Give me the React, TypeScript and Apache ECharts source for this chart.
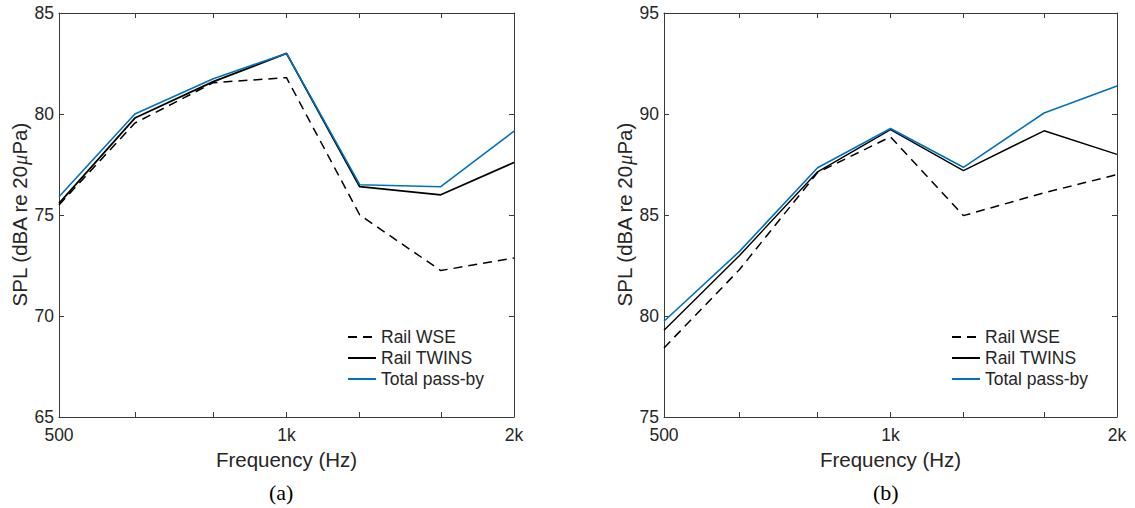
import React, { useEffect, useRef } from "react";
import * as echarts from "echarts";

// Third-octave band centre frequencies (Hz)
const FREQ = [500, 630, 800, 1000, 1250, 1600, 2000];
const X_LABEL_VALUES = [500, 1000, 2000];
const X_LABEL_TEXT: Record<number, string> = { 500: "500", 1000: "1k", 2000: "2k" };

const SERIES_NAMES = ["Rail WSE", "Rail TWINS", "Total pass-by"];

// Panel (a)
const A_WSE = [75.5, 79.55, 81.55, 81.8, 75.0, 72.25, 72.87];
const A_TWINS = [75.58, 79.8, 81.6, 83.0, 76.4, 76.0, 77.6];
const A_TOTAL = [75.9, 80.0, 81.75, 83.0, 76.5, 76.4, 79.15];
const A_Y = { min: 65, max: 85, interval: 5 };

// Panel (b)
const B_WSE = [78.42, 82.3, 87.1, 88.87, 84.97, 86.1, 87.0];
const B_TWINS = [79.29, 83.0, 87.14, 89.23, 87.2, 89.17, 88.0];
const B_TOTAL = [79.74, 83.2, 87.34, 89.28, 87.36, 90.05, 91.38];
const B_Y = { min: 75, max: 95, interval: 5 };

const FONT = "'Liberation Sans', Arial, Helvetica, sans-serif";
const TEXT = "#262626";
const AXIS = "#3a3a3a";
const BLUE = "#0072BD";

function pairs(ys: number[]) {
  return FREQ.map((f, i) => [f, ys[i]]);
}

export default function App() {
  const ref = useRef<HTMLDivElement>(null);

  useEffect(() => {
    if (!ref.current) return;
    const chart = echarts.init(ref.current, null, { renderer: "svg" });

    const grids = [
      { left: 59, top: 13, width: 455, height: 404 },
      { left: 664, top: 13, width: 453, height: 404 },
    ];
    const yRanges = [A_Y, B_Y];

    const xAxes: any[] = [];
    const yAxes: any[] = [];
    grids.forEach((_, g) => {
      const base = {
        type: "log",
        logBase: 2,
        min: 500,
        max: 2000,
        gridIndex: g,
        splitLine: { show: false },
        minorTick: { show: false },
        axisLine: { show: true, lineStyle: { color: AXIS, width: 1 } },
        axisTick: {
          show: true,
          inside: true,
          length: 5,
          customValues: FREQ,
          lineStyle: { color: AXIS, width: 1 },
        },
      };
      xAxes.push({
        ...base,
        position: "bottom",
        name: "Frequency (Hz)",
        nameLocation: "middle",
        nameGap: 32,
        nameTextStyle: { fontFamily: FONT, fontSize: 20.5, color: TEXT },
        axisLabel: {
          show: true,
          customValues: X_LABEL_VALUES,
          margin: 9,
          fontFamily: FONT,
          fontSize: 17.5,
          color: TEXT,
          formatter: (v: number) => {
            const key = X_LABEL_VALUES.find((k) => Math.abs(k - v) < 1);
            return key !== undefined ? X_LABEL_TEXT[key] : "";
          },
        },
      });
      xAxes.push({
        ...base,
        position: "top",
        axisLabel: { show: false },
      });
      const yr = yRanges[g];
      const ybase = {
        type: "value",
        gridIndex: g,
        min: yr.min,
        max: yr.max,
        interval: yr.interval,
        splitLine: { show: false },
        axisLine: { show: true, lineStyle: { color: AXIS, width: 1 } },
        axisTick: { show: true, inside: true, length: 5, lineStyle: { color: AXIS, width: 1 } },
      };
      yAxes.push({
        ...ybase,
        position: "left",
        name: "SPL (dBA re 20{mu|μ}Pa)",
        nameLocation: "middle",
        nameGap: 29,
        nameTextStyle: {
          fontFamily: FONT,
          fontSize: 20.5,
          color: TEXT,
          rich: {
            mu: { fontFamily: "'Liberation Serif', 'DejaVu Serif', serif", fontStyle: "italic", fontSize: 20.5, color: TEXT },
          },
        },
        axisLabel: { show: true, margin: 5, fontFamily: FONT, fontSize: 17.5, color: TEXT },
      });
      yAxes.push({
        ...ybase,
        position: "right",
        axisLabel: { show: false },
      });
    });

    const panels = [
      [A_WSE, A_TWINS, A_TOTAL],
      [B_WSE, B_TWINS, B_TOTAL],
    ];
    const series: any[] = [];
    panels.forEach((vals, g) => {
      const styles = [
        { color: "#000", width: 1.5, type: [9, 6] },
        { color: "#000", width: g === 0 ? 1.8 : 1.4, type: "solid" },
        { color: BLUE, width: 1.6, type: "solid" },
      ];
      vals.forEach((ys, i) => {
        series.push({
          type: "line",
          name: SERIES_NAMES[i],
          xAxisIndex: g * 2,
          yAxisIndex: g * 2,
          data: pairs(ys),
          showSymbol: false,
          symbol: "none",
          silent: true,
          itemStyle: { color: styles[i].color },
          lineStyle: styles[i],
        });
      });
    });

    const legendBase = {
      orient: "vertical",
      top: 328,
      itemWidth: 28,
      itemHeight: 14,
      itemGap: 3,
      padding: 0,
      selectedMode: false,
      data: SERIES_NAMES,
      itemStyle: { opacity: 0 },
      textStyle: { fontFamily: FONT, fontSize: 17.5, color: TEXT },
    };

    chart.setOption({
      animation: false,
      backgroundColor: "#fff",
      grid: grids.map((g) => ({ ...g, containLabel: false, outerBoundsMode: "none" })),
      xAxis: xAxes,
      yAxis: yAxes,
      legend: [
        { ...legendBase, left: 347 },
        { ...legendBase, left: 951 },
      ],
      series,
      graphic: [
        {
          type: "text",
          left: 283 - 14,
          top: 481,
          style: { text: "(a)", fontFamily: "'Liberation Serif', 'Times New Roman', serif", fontSize: 22, fill: "#000" },
        },
        {
          type: "text",
          left: 887 - 14,
          top: 481,
          style: { text: "(b)", fontFamily: "'Liberation Serif', 'Times New Roman', serif", fontSize: 22, fill: "#000" },
        },
      ],
    });

    return () => chart.dispose();
  }, []);

  return (
    <div
      ref={ref}
      style={{ position: "fixed", left: 0, top: 0, width: 1135, height: 508, background: "#fff" }}
    />
  );
}
